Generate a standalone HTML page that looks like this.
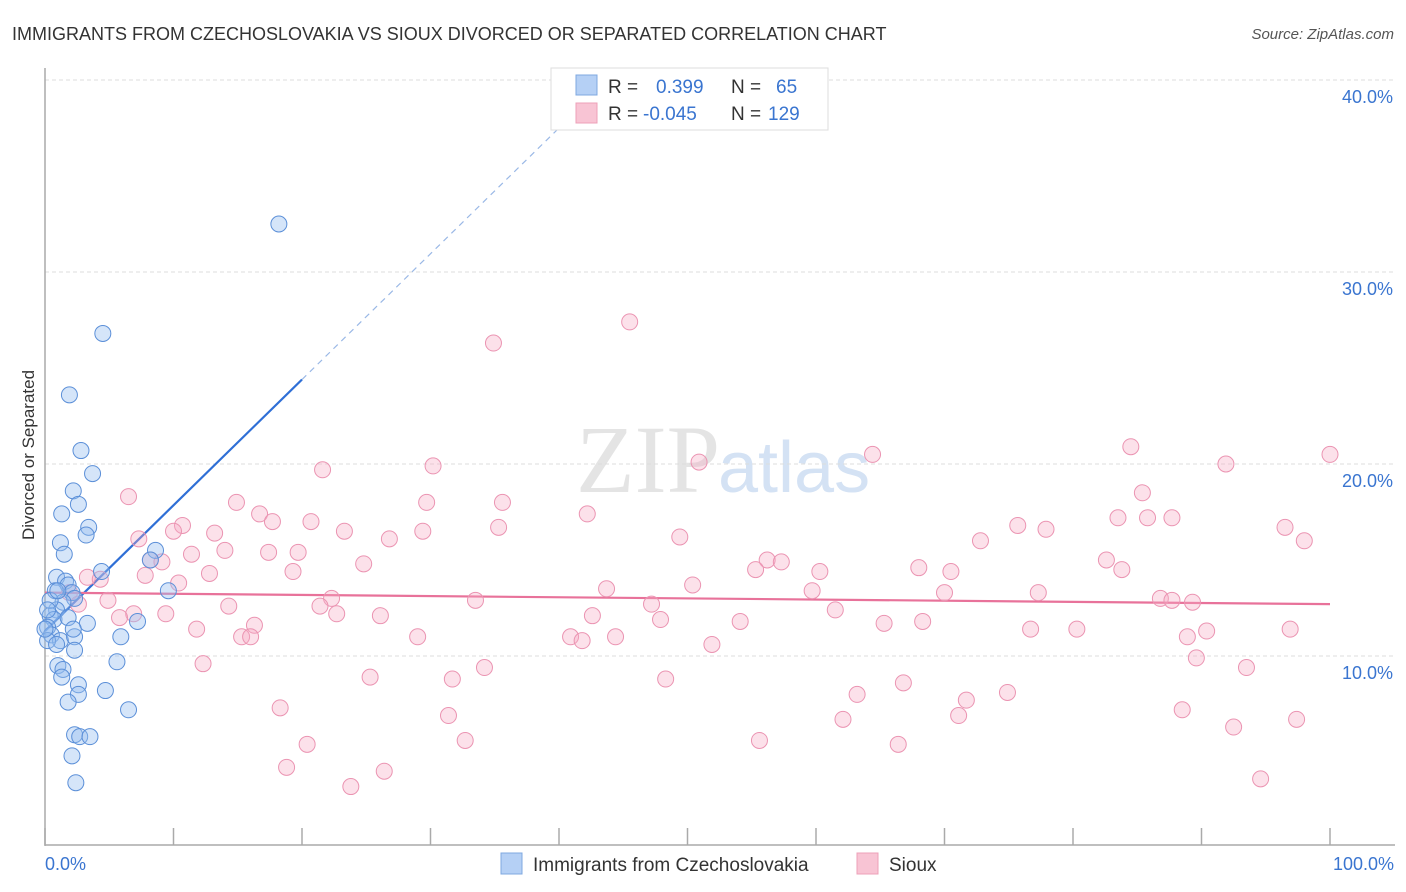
<!DOCTYPE html>
<html><head><meta charset="utf-8"><style>
body{margin:0;background:#fff;font-family:"Liberation Sans",sans-serif;}
svg{display:block}
</style></head><body>
<svg id="chart" width="1406" height="892">
<text x="12" y="40" font-size="18" fill="#333">IMMIGRANTS FROM CZECHOSLOVAKIA VS SIOUX DIVORCED OR SEPARATED CORRELATION CHART</text>
<text x="1394" y="39" font-size="15" font-style="italic" fill="#555" text-anchor="end">Source: ZipAtlas.com</text>
<text x="720" y="492" font-size="96" fill="#e4e4e4" text-anchor="end" font-family="Liberation Serif">ZIP</text>
<text x="718" y="492" font-size="72" fill="#d4e2f4">atlas</text>
<g id="grid"></g><g id="axes"></g><g id="trends"></g><g id="pts"></g>
<text x="34" y="455" font-size="17" fill="#333" text-anchor="middle" transform="rotate(-90 34 455)">Divorced or Separated</text>
<g>
<rect x="551" y="68" width="277" height="62" fill="#fff" stroke="#ddd"/>
<rect x="576" y="75" width="21" height="20" fill="#b5d0f5" stroke="#7fa8e0"/>
<rect x="576" y="103" width="21" height="20" fill="#f8c4d4" stroke="#eea0b8"/>
<text x="608" y="93" font-size="19" fill="#333">R = </text><text x="656" y="93" font-size="19" fill="#3a75d0">0.399</text>
<text x="731" y="93" font-size="19" fill="#333">N = </text><text x="776" y="93" font-size="19" fill="#3a75d0">65</text>
<text x="608" y="120" font-size="19" fill="#333">R = </text><text x="643" y="120" font-size="19" fill="#3a75d0">-0.045</text>
<text x="731" y="120" font-size="19" fill="#333">N = </text><text x="768" y="120" font-size="19" fill="#3a75d0">129</text>
</g>
<g>
<rect x="501" y="853" width="21" height="21" fill="#b5d0f5" stroke="#7fa8e0"/>
<text x="533" y="871" font-size="19" fill="#333">Immigrants from Czechoslovakia</text>
<rect x="857" y="853" width="21" height="21" fill="#f8c4d4" stroke="#eea0b8"/>
<text x="889" y="871" font-size="19" fill="#333">Sioux</text>
</g>
</svg>
<script>
const yTicks=[10,20,30,40];
const yTickLabels=["10.0%","20.0%","30.0%","40.0%"];
const xTickVals=[0,10,20,30,40,50,60,70,80,90,100];
const blueX=[18.2,4.5,1.9,2.8,3.7,2.2,2.6,1.3,3.4,3.2,1.2,1.5,4.4,8.6,8.2,9.6,0.9,1.6,1.8,0.8,2.1,2.3,1.4,0.9,0.4,0.7,1.8,0.2,0.5,1.2,3.3,7.2,5.9,2.3,2.2,0.2,0.9,2.3,5.6,1.0,1.4,1.3,2.6,2.6,4.7,1.8,6.5,2.3,2.7,3.5,2.1,2.4,0.4,0.2,1.0,0.0];
const blueY=[32.5,26.8,23.6,20.7,19.5,18.6,17.9,17.4,16.7,16.3,15.9,15.3,14.4,15.5,15.0,13.4,14.1,13.9,13.7,13.4,13.3,13.0,12.8,12.4,12.1,11.9,12.0,11.5,11.1,10.8,11.7,11.8,11.0,11.0,11.4,10.8,10.6,10.3,9.7,9.5,9.3,8.9,8.5,8.0,8.2,7.6,7.2,5.9,5.8,5.8,4.8,3.4,12.9,12.4,13.4,11.4];
const pinkX=[45.5,34.9,84.5,64.4,100,50.9,91.9,21.6,30.2,6.5,14.9,35.6,29.7,42.2,16.7,20.7,17.7,10.7,10.0,85.4,83.5,85.8,87.7,75.7,77.9,96.5,98.0,35.3,23.3,29.4,26.8,13.2,7.3,72.8,49.4,8.2,11.4,14.0,17.4,19.7,24.8,9.1,82.6,56.2,57.3,55.3,60.3,68.0,70.5,83.8,19.3,12.8,7.8,10.4,3.3,4.3,43.7,50.4,59.7,70.0,77.3,86.8,87.7,89.3,1.9,4.9,2.6,47.2,33.5,22.3,21.4,14.3,26.1,22.7,42.6,47.9,61.5,6.9,5.8,9.4,16.3,11.8,54.1,65.3,68.3,76.7,80.3,88.9,90.4,96.9,15.3,16.0,29.0,40.9,41.8,44.4,51.9,89.6,12.3,34.2,93.5,25.3,31.7,48.3,66.8,63.2,71.7,74.9,18.3,31.4,62.1,71.1,88.5,97.4,92.5,20.4,32.7,55.6,66.4,18.8,26.4,23.8,94.6];
const pinkY=[27.4,26.3,20.9,20.5,20.5,20.1,20.0,19.7,19.9,18.3,18.0,18.0,18.0,17.4,17.4,17.0,17.0,16.8,16.5,18.5,17.2,17.2,17.2,16.8,16.6,16.7,16.0,16.7,16.5,16.5,16.1,16.4,16.1,16.0,16.2,15.0,15.3,15.5,15.4,15.4,14.8,14.9,15.0,15.0,14.9,14.5,14.4,14.6,14.4,14.5,14.4,14.3,14.2,13.8,14.1,14.0,13.5,13.7,13.4,13.3,13.3,13.0,12.9,12.8,13.3,12.9,12.7,12.7,12.9,13.0,12.6,12.6,12.1,12.2,12.1,11.9,12.4,12.2,12.0,12.2,11.6,11.4,11.8,11.7,11.8,11.4,11.4,11.0,11.3,11.4,11.0,11.0,11.0,11.0,10.8,11.0,10.6,9.9,9.6,9.4,9.4,8.9,8.8,8.8,8.6,8.0,7.7,8.1,7.3,6.9,6.7,6.9,7.2,6.7,6.3,5.4,5.6,5.6,5.4,4.2,4.0,3.2,3.6];
const blueTrend=[11.3,0.655];
const pinkTrend=[13.3,-0.006];

const NS="http://www.w3.org/2000/svg";
const X0=45,X1=1330,Y0=848,PX=19.2;
const sx=v=>X0+(X1-X0)*v/100;
const sy=v=>Y0-v*PX;
function mk(tag,attrs,parent){const e=document.createElementNS(NS,tag);for(const k in attrs)e.setAttribute(k,attrs[k]);parent.appendChild(e);return e;}
const grid=document.getElementById('grid'),axes=document.getElementById('axes'),tr=document.getElementById('trends'),pts=document.getElementById('pts');
yTicks.forEach((t,i)=>{
 const l=mk('line',{x1:X0,x2:1395,y1:sy(t),y2:sy(t),stroke:'#ddd','stroke-dasharray':'4 3'},grid);
 
 
 const tx=mk('text',{x:1393,y:sy(t)+23,'font-size':18,fill:'#3a75d0','text-anchor':'end'},grid);
 tx.textContent=yTickLabels[i];
 
 
});
const ya=mk('line',{x1:X0,x2:X0,y1:68,y2:846,stroke:'#aaa','stroke-width':1.5},axes);


const xa=mk('line',{x1:X0,x2:1395,y1:845,y2:845,stroke:'#aaa','stroke-width':1.5},axes);


xTickVals.forEach(v=>{
 const t=mk('line',{x1:sx(v),x2:sx(v),y1:828,y2:845,stroke:'#aaa','stroke-width':1.5},axes);
 
 
});
const xl0=mk('text',{x:45,y:870,'font-size':18,fill:'#3a75d0'},axes);xl0.textContent='0.0%';


const xl1=mk('text',{x:1394,y:870,'font-size':18,fill:'#3a75d0','text-anchor':'end'},axes);xl1.textContent='100.0%';


pinkX.forEach((v,i)=>{
 const c=mk('circle',{cx:sx(v),cy:sy(pinkY[i]),r:8,fill:'rgba(246,170,196,0.35)',stroke:'#eb94b2','stroke-width':1},pts);
 
 
});
blueX.forEach((v,i)=>{
 const c=mk('circle',{cx:sx(v),cy:sy(blueY[i]),r:8,fill:'rgba(150,190,240,0.4)',stroke:'#5b8fd8','stroke-width':1},pts);
 
 
});
const bEnd=20,bDash=(40-blueTrend[0])/blueTrend[1];
const bl=mk('line',{x1:sx(0),y1:sy(blueTrend[0]),x2:sx(bEnd),y2:sy(blueTrend[0]+blueTrend[1]*bEnd),stroke:'#2f6fd6','stroke-width':2.2},tr);


const bd=mk('line',{x1:sx(bEnd),y1:sy(blueTrend[0]+blueTrend[1]*bEnd),x2:sx(bDash),y2:sy(40),stroke:'#9ab8e6','stroke-width':1.2,'stroke-dasharray':'6 5'},tr);


const pl=mk('line',{x1:sx(0),y1:sy(pinkTrend[0]),x2:sx(100),y2:sy(pinkTrend[0]+pinkTrend[1]*100),stroke:'#e8729a','stroke-width':2.2},tr);


</script>
</body></html>
